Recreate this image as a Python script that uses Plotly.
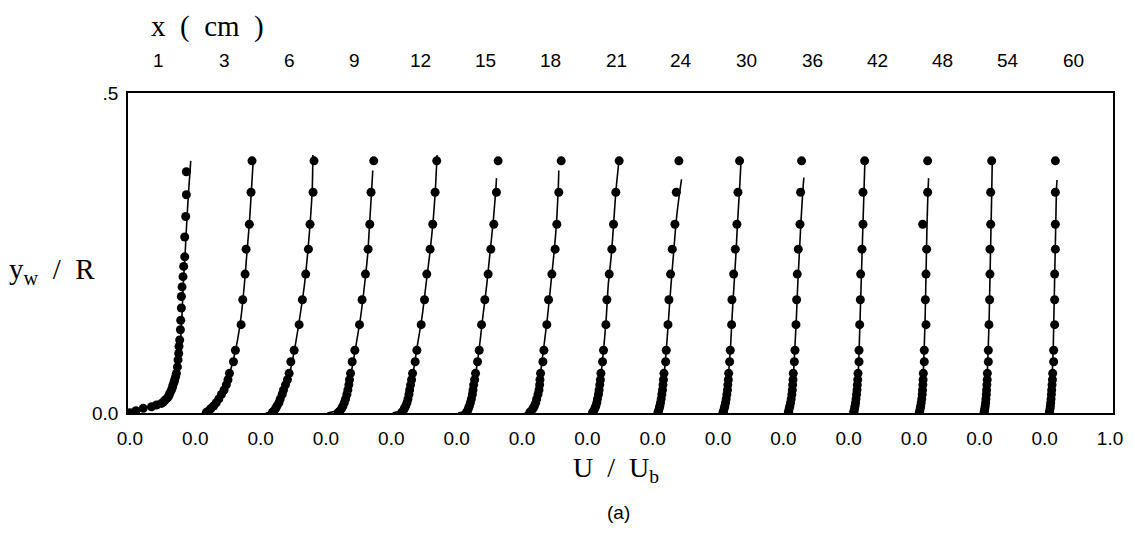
import plotly.graph_objects as go

# ---- categories: streamwise stations (cm) ----
x_cm = [1, 3, 6, 9, 12, 15, 18, 21, 24, 30, 36, 42, 48, 54, 60]

# ---- bottom tick labels ----
bottom_tick_text = ["0.0"] * 15 + ["1.0"]

# ---- measured wall-normal positions y_w/R (stations 3..60 cm) ----
y_meas = [0.394, 0.345, 0.295, 0.256, 0.217, 0.177, 0.138, 0.098, 0.080, 0.062,
          0.052, 0.044, 0.036, 0.029, 0.022, 0.016, 0.011, 0.007, 0.003, 0.001]

# station 1 cm has its own positions
y_meas_x1 = [0.377, 0.341, 0.307, 0.275, 0.244, 0.229, 0.213, 0.197, 0.182, 0.164,
             0.145, 0.130, 0.114, 0.104, 0.093, 0.083, 0.072, 0.062, 0.057, 0.052,
             0.048, 0.044, 0.040, 0.036, 0.031, 0.028, 0.025, 0.022, 0.020, 0.017,
             0.015, 0.0125, 0.0098, 0.0073, 0.0036, 0.0005]

# ---- measured U/Ub (symbols) ----
u_x1 = [0.863, 0.863, 0.853, 0.838, 0.838, 0.822, 0.812, 0.797, 0.787, 0.787,
        0.777, 0.772, 0.761, 0.751, 0.746, 0.736, 0.726, 0.711, 0.700, 0.685,
        0.675, 0.660, 0.650, 0.635, 0.609, 0.600, 0.584, 0.560, 0.533, 0.510,
        0.482, 0.406, 0.330, 0.203, 0.091, 0.000]
u_x3 = [0.868, 0.853, 0.827, 0.777, 0.762, 0.726, 0.701, 0.614, 0.584, 0.523,
        0.500, 0.475, 0.440, 0.400, 0.360, 0.320, 0.280, 0.240, 0.200, 0.170]
u_x6 = [0.817, 0.802, 0.756, 0.731, 0.690, 0.639, 0.589, 0.513, 0.462, 0.436,
        0.410, 0.380, 0.350, 0.330, 0.300, 0.280, 0.250, 0.230, 0.200, 0.180]
u_x9 = [0.731, 0.690, 0.670, 0.645, 0.604, 0.553, 0.513, 0.442, 0.401, 0.376,
        0.360, 0.350, 0.335, 0.320, 0.300, 0.280, 0.260, 0.240, 0.210, 0.190]
u_x12 = [0.695, 0.670, 0.634, 0.594, 0.543, 0.508, 0.457, 0.391, 0.365, 0.325,
         0.310, 0.295, 0.280, 0.270, 0.255, 0.240, 0.220, 0.200, 0.180, 0.160]
u_x15 = [0.635, 0.609, 0.569, 0.523, 0.482, 0.431, 0.381, 0.345, 0.320, 0.289,
         0.275, 0.260, 0.250, 0.240, 0.225, 0.210, 0.195, 0.180, 0.165, 0.150]
u_x18 = [0.600, 0.563, 0.533, 0.507, 0.457, 0.406, 0.380, 0.335, 0.320, 0.284,
         0.275, 0.270, 0.260, 0.245, 0.225, 0.210, 0.190, 0.170, 0.140, 0.120]
u_x21 = [0.487, 0.436, 0.401, 0.375, 0.335, 0.299, 0.284, 0.248, 0.233, 0.208,
         0.200, 0.190, 0.180, 0.170, 0.155, 0.145, 0.130, 0.115, 0.095, 0.080]
u_x24 = [0.401, 0.361, 0.340, 0.300, 0.274, 0.249, 0.234, 0.208, 0.198, 0.173,
         0.165, 0.158, 0.150, 0.140, 0.130, 0.120, 0.110, 0.100, 0.090, 0.080]
u_x30 = [0.330, 0.305, 0.289, 0.264, 0.239, 0.213, 0.208, 0.188, 0.178, 0.163,
         0.158, 0.150, 0.145, 0.135, 0.125, 0.115, 0.105, 0.095, 0.085, 0.076]
u_x36 = [0.279, 0.264, 0.254, 0.228, 0.213, 0.203, 0.193, 0.178, 0.168, 0.152,
         0.148, 0.142, 0.137, 0.130, 0.120, 0.110, 0.100, 0.090, 0.082, 0.076]
u_x42 = [0.244, 0.219, 0.219, 0.203, 0.183, 0.178, 0.168, 0.158, 0.158, 0.143,
         0.138, 0.132, 0.127, 0.120, 0.112, 0.105, 0.097, 0.090, 0.082, 0.076]
u_x48 = [0.208, 0.208, 0.132, 0.193, 0.183, 0.173, 0.183, 0.157, 0.157, 0.142,
         0.138, 0.135, 0.130, 0.125, 0.118, 0.110, 0.102, 0.095, 0.087, 0.081]
u_x54 = [0.188, 0.173, 0.173, 0.162, 0.162, 0.157, 0.147, 0.137, 0.137, 0.122,
         0.120, 0.115, 0.110, 0.107, 0.100, 0.095, 0.090, 0.083, 0.077, 0.071]
u_x60 = [0.163, 0.163, 0.163, 0.163, 0.152, 0.152, 0.152, 0.137, 0.137, 0.122,
         0.118, 0.112, 0.107, 0.102, 0.097, 0.092, 0.087, 0.082, 0.076, 0.071]

# ---- computed profiles (solid lines) ----
y_line_x1 = [0.0, 0.004, 0.008, 0.012, 0.016, 0.022, 0.030, 0.045, 0.070, 0.100,
             0.150, 0.200, 0.250, 0.300, 0.350, 0.394]
line_x1 = [0.00, 0.10, 0.22, 0.36, 0.47, 0.56, 0.62, 0.68, 0.73, 0.765,
           0.795, 0.815, 0.845, 0.870, 0.900, 0.930]

y_line = [0.0, 0.003, 0.01, 0.03, 0.06, 0.10, 0.15, 0.20, 0.25, 0.30, 0.35]
y_line_top = [0.400, 0.403, 0.379, 0.403, 0.367, 0.379, 0.400, 0.365,
              0.400, 0.368, 0.400, 0.367, 0.400, 0.364]   # stations 3..60

line_x3 = [0.10, 0.20, 0.29, 0.41, 0.52, 0.62, 0.70, 0.75, 0.79, 0.83, 0.86, 0.89]
line_x6 = [0.08, 0.17, 0.25, 0.35, 0.44, 0.52, 0.60, 0.67, 0.72, 0.76, 0.79, 0.80]
line_x9 = [0.02, 0.15, 0.24, 0.32, 0.38, 0.45, 0.53, 0.59, 0.64, 0.67, 0.70, 0.716]
line_x12 = [0.02, 0.13, 0.21, 0.28, 0.33, 0.39, 0.47, 0.53, 0.59, 0.64, 0.675, 0.70]
line_x15 = [0.02, 0.12, 0.19, 0.25, 0.29, 0.345, 0.40, 0.46, 0.51, 0.56, 0.60, 0.61]
line_x18 = [0.04, 0.11, 0.18, 0.23, 0.28, 0.33, 0.39, 0.44, 0.49, 0.53, 0.555, 0.563]
line_x21 = [0.03, 0.09, 0.14, 0.18, 0.21, 0.25, 0.29, 0.32, 0.37, 0.405, 0.44, 0.49]
line_x24 = [0.04, 0.08, 0.12, 0.15, 0.175, 0.21, 0.245, 0.28, 0.32, 0.36, 0.42, 0.442]
line_x30 = [0.04, 0.08, 0.11, 0.14, 0.16, 0.19, 0.215, 0.245, 0.275, 0.30, 0.33, 0.355]
line_x36 = [0.04, 0.08, 0.11, 0.13, 0.155, 0.175, 0.20, 0.22, 0.245, 0.27, 0.30, 0.314]
line_x42 = [0.04, 0.075, 0.10, 0.12, 0.145, 0.16, 0.175, 0.19, 0.205, 0.22, 0.235, 0.25]
line_x48 = [0.04, 0.08, 0.10, 0.12, 0.14, 0.155, 0.17, 0.18, 0.19, 0.20, 0.215, 0.223]
line_x54 = [0.04, 0.07, 0.09, 0.105, 0.12, 0.135, 0.15, 0.16, 0.17, 0.18, 0.19, 0.198]
line_x60 = [0.04, 0.065, 0.085, 0.10, 0.115, 0.13, 0.14, 0.15, 0.16, 0.17, 0.18, 0.188]

meas = [u_x1, u_x3, u_x6, u_x9, u_x12, u_x15, u_x18, u_x21, u_x24, u_x30,
        u_x36, u_x42, u_x48, u_x54, u_x60]
lines = [line_x1, line_x3, line_x6, line_x9, line_x12, line_x15, line_x18, line_x21,
         line_x24, line_x30, line_x36, line_x42, line_x48, line_x54, line_x60]

LABEL_OFFSET = 0.44  # where each station label sits relative to its profile origin

fig = go.Figure()
for i, (u, lu) in enumerate(zip(meas, lines)):
    if i == 0:
        ym, yl = y_meas_x1, y_line_x1
    else:
        ym, yl = y_meas, y_line + [y_line_top[i - 1]]
    fig.add_trace(go.Scatter(
        x=[i + v for v in lu], y=yl, mode="lines",
        line=dict(color="black", width=1.6, shape="spline", smoothing=0.6),
        hoverinfo="skip", showlegend=False))
    fig.add_trace(go.Scatter(
        x=[i + v for v in u], y=ym, mode="markers",
        marker=dict(color="black", size=9, line=dict(width=0)),
        showlegend=False, name=f"x = {x_cm[i]} cm"))

tick_font = dict(family="Liberation Sans, Arial, sans-serif", size=19, color="black")
serif = "Liberation Serif, Times New Roman, serif"

fig.update_layout(
    width=1135, height=540,
    margin=dict(l=128, r=17, t=93, b=127),
    paper_bgcolor="white", plot_bgcolor="white",
    showlegend=False,
    xaxis=dict(range=[-0.03, 15.045], tickvals=list(range(16)), ticktext=bottom_tick_text,
               showgrid=False, zeroline=False, showline=True, mirror=True,
               linecolor="black", linewidth=1.5, ticks="", tickfont=tick_font,
               ticklabelstandoff=7),
    yaxis=dict(range=[0, 0.5], tickvals=[0, 0.5], ticktext=["0.0", ".5"],
               showgrid=False, zeroline=False, showline=True, mirror=True,
               linecolor="black", linewidth=1.5, ticks="", tickfont=tick_font,
               ticklabelstandoff=4),
)

annotations = []
for i, lab in enumerate(x_cm):
    annotations.append(dict(x=i + LABEL_OFFSET, y=1, xref="x", yref="paper",
                            text=str(lab), showarrow=False, yanchor="middle",
                            yshift=33, font=tick_font))
annotations += [
    dict(x=208, y=27, text="x&nbsp;&nbsp;(&nbsp;&nbsp;cm&nbsp;&nbsp;)",
         showarrow=False, font=dict(family=serif, size=29, color="black")),
    dict(x=52, y=271, text="y<sub>w</sub>&nbsp;&nbsp;/&nbsp;&nbsp;R",
         showarrow=False, font=dict(family=serif, size=29, color="black")),
    dict(x=618, y=469, text="U&nbsp;&nbsp;/&nbsp;&nbsp;U<sub>b</sub>",
         showarrow=False, font=dict(family=serif, size=28, color="black")),
    dict(x=621, y=512, text="(a)", showarrow=False,
         font=dict(family="Liberation Sans, Arial, sans-serif", size=19, color="black")),
]
# convert pixel-placed titles to paper coordinates
W, H, L, R, T, B = 1135, 540, 128, 17, 93, 127
pw, ph = W - L - R, H - T - B
for a in annotations[len(x_cm):]:
    a["xref"] = "paper"; a["yref"] = "paper"
    a["x"] = (a["x"] - L) / pw
    a["y"] = 1 - (a["y"] - T) / ph
    a["xanchor"] = "center"; a["yanchor"] = "middle"
fig.update_layout(annotations=annotations)

fig.write_html("out.html")
